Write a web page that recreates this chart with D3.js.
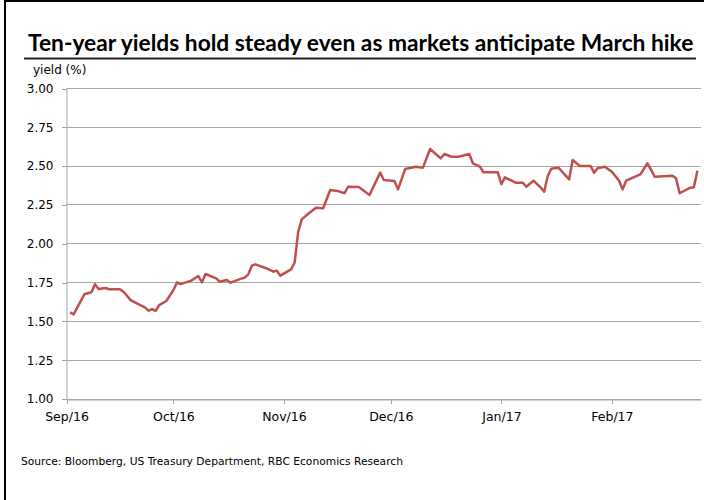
<!DOCTYPE html>
<html>
<head>
<meta charset="utf-8">
<script src="https://cdn.jsdelivr.net/npm/d3@7"></script>
<style>
    html, body { margin: 0; padding: 0; background: #fff; }
    svg { display: block; }
    .axis-text { font-family: "DejaVu Sans", sans-serif; fill: #000; }
</style>
</head>
<body>
<svg id="chart" width="704" height="500"></svg>
<script>
// --- Data ---
const dates = [
    "2016-09-02", "2016-09-03", "2016-09-06", "2016-09-08", "2016-09-09", "2016-09-10",
    "2016-09-12", "2016-09-13", "2016-09-16", "2016-09-17", "2016-09-19", "2016-09-21",
    "2016-09-23", "2016-09-24", "2016-09-25", "2016-09-26", "2016-09-27", "2016-09-29",
    "2016-10-01", "2016-10-02", "2016-10-03", "2016-10-06", "2016-10-08", "2016-10-09",
    "2016-10-10", "2016-10-13", "2016-10-14", "2016-10-16", "2016-10-17", "2016-10-20",
    "2016-10-21", "2016-10-22", "2016-10-23", "2016-10-24", "2016-10-27", "2016-10-29",
    "2016-10-30", "2016-10-31", "2016-11-03", "2016-11-04", "2016-11-05", "2016-11-06",
    "2016-11-08", "2016-11-10", "2016-11-12", "2016-11-14", "2016-11-16", "2016-11-18",
    "2016-11-19", "2016-11-22", "2016-11-25", "2016-11-28", "2016-11-29", "2016-12-02",
    "2016-12-03", "2016-12-05", "2016-12-08", "2016-12-10", "2016-12-12", "2016-12-15",
    "2016-12-16", "2016-12-18", "2016-12-20", "2016-12-23", "2016-12-24", "2016-12-26",
    "2016-12-27", "2016-12-31", "2017-01-01", "2017-01-02", "2017-01-05", "2017-01-07",
    "2017-01-08", "2017-01-10", "2017-01-12", "2017-01-13", "2017-01-14", "2017-01-15",
    "2017-01-17", "2017-01-20", "2017-01-21", "2017-01-23", "2017-01-26", "2017-01-27",
    "2017-01-28", "2017-01-30", "2017-02-01", "2017-02-03", "2017-02-04", "2017-02-05",
    "2017-02-09", "2017-02-11", "2017-02-13", "2017-02-18", "2017-02-19", "2017-02-20",
    "2017-02-23", "2017-02-24", "2017-02-25"
];
const yields = [
    1.555, 1.542, 1.671, 1.684, 1.736, 1.705,
    1.712, 1.703, 1.703, 1.688, 1.634, 1.609,
    1.587, 1.566, 1.575, 1.564, 1.602, 1.628,
    1.699, 1.748, 1.737, 1.759, 1.789, 1.748,
    1.802, 1.774, 1.752, 1.763, 1.746, 1.772,
    1.778, 1.800, 1.855, 1.864, 1.839, 1.817,
    1.823, 1.791, 1.832, 1.875, 2.074, 2.154,
    2.193, 2.229, 2.225, 2.343, 2.337, 2.322,
    2.364, 2.362, 2.311, 2.455, 2.407, 2.401,
    2.347, 2.478, 2.493, 2.487, 2.607, 2.547,
    2.575, 2.557, 2.557, 2.575, 2.515, 2.493,
    2.457, 2.457, 2.380, 2.425, 2.390, 2.390,
    2.364, 2.403, 2.360, 2.332, 2.433, 2.480,
    2.487, 2.412, 2.536, 2.498, 2.498, 2.455,
    2.483, 2.493, 2.461, 2.403, 2.347, 2.403,
    2.444, 2.515, 2.429, 2.435, 2.418, 2.322,
    2.358, 2.360, 2.467
];
const yTicks = [1.00, 1.25, 1.50, 1.75, 2.00, 2.25, 2.50, 2.75, 3.00];
const xTicks = ["2016-09-01", "2016-10-01", "2016-11-01", "2016-12-01", "2017-01-01", "2017-02-01"];
const xDomain = ["2016-09-01", "2017-02-26"];

const titleText = "Ten-year yields hold steady even as markets anticipate March hike";
const yAxisTitle = "yield (%)";
const sourceText = "Source: Bloomberg, US Treasury Department, RBC Economics Research";

const parse = d3.utcParse("%Y-%m-%d");
const data = dates.map((d, i) => ({ date: parse(d), value: yields[i] }));

const svg = d3.select("#chart");

// frame (top + left only, as in the reference)
svg.append("line").attr("x1", 4).attr("x2", 704).attr("y1", 1).attr("y2", 1)
    .attr("stroke", "#000").attr("stroke-width", 2);
svg.append("line").attr("x1", 5).attr("x2", 5).attr("y1", 0).attr("y2", 500)
    .attr("stroke", "#000").attr("stroke-width", 2);

// title, squeezed to the width of the underline
const title = svg.append("text")
    .attr("x", 28)
    .attr("y", 51)
    .style("font-family", "Lato, 'Open Sans', sans-serif")
    .style("font-weight", "bold")
    .style("font-size", "20px")
    .attr("fill", "#000")
    .text(titleText);
const tw = title.node().getComputedTextLength();
title.style("font-size", (20 * 666 / tw) + "px");

svg.append("line").attr("x1", 24).attr("x2", 696).attr("y1", 58.5).attr("y2", 58.5)
    .attr("stroke", "#222").attr("stroke-width", 2);

// --- scales ---
const x = d3.scaleUtc()
    .domain(xDomain.map(parse))
    .range([66.5, 701]);
const y = d3.scaleLinear()
    .domain([1, 3])
    .range([398.5, 88]);

const gridColor = "#a6a6a6";

// horizontal gridlines
svg.append("g")
    .selectAll("line")
    .data(yTicks)
    .enter()
    .append("line")
    .attr("x1", x.range()[0])
    .attr("x2", x.range()[1])
    .attr("y1", (d) => Math.round(y(d)) + 0.5)
    .attr("y2", (d) => Math.round(y(d)) + 0.5)
    .attr("stroke", gridColor)
    .attr("stroke-width", 1);

// y axis
const yAxis = svg.append("g")
    .attr("transform", `translate(${x.range()[0]},0.5)`)
    .call(d3.axisLeft(y).tickValues(yTicks).tickSize(5).tickSizeOuter(0).tickPadding(8)
        .tickFormat(d3.format(".2f")));
yAxis.selectAll("text").attr("class", "axis-text").style("font-size", "12px").attr("fill", "#000");

// x axis
const xAxis = svg.append("g")
    .attr("transform", `translate(0,${Math.round(y(1)) + 0.5})`)
    .call(d3.axisBottom(x).tickValues(xTicks.map(parse)).tickSize(4).tickSizeOuter(0).tickPadding(9)
        .tickFormat(d3.utcFormat("%b/%y")));
xAxis.selectAll("text").attr("class", "axis-text").style("font-size", "12.5px").attr("fill", "#000");

svg.selectAll(".domain").attr("stroke", gridColor);
svg.selectAll(".tick line").attr("stroke", gridColor);
svg.selectAll(".tick line").attr("shape-rendering", "crispEdges");

// axis title
svg.append("text")
    .attr("x", 33)
    .attr("y", 74)
    .attr("class", "axis-text")
    .style("font-size", "12px")
    .text(yAxisTitle);

// --- the yield line ---
const line = d3.line()
    .x((d) => x(d.date))
    .y((d) => y(d.value));

svg.append("path")
    .datum(data)
    .attr("d", line)
    .attr("fill", "none")
    .attr("stroke", "#c0504d")
    .attr("stroke-width", 2.5)
    .attr("stroke-linejoin", "round");

// source note
svg.append("text")
    .attr("x", 21)
    .attr("y", 465)
    .attr("class", "axis-text")
    .style("font-size", "10.7px")
    .text(sourceText);
</script>
</body>
</html>
